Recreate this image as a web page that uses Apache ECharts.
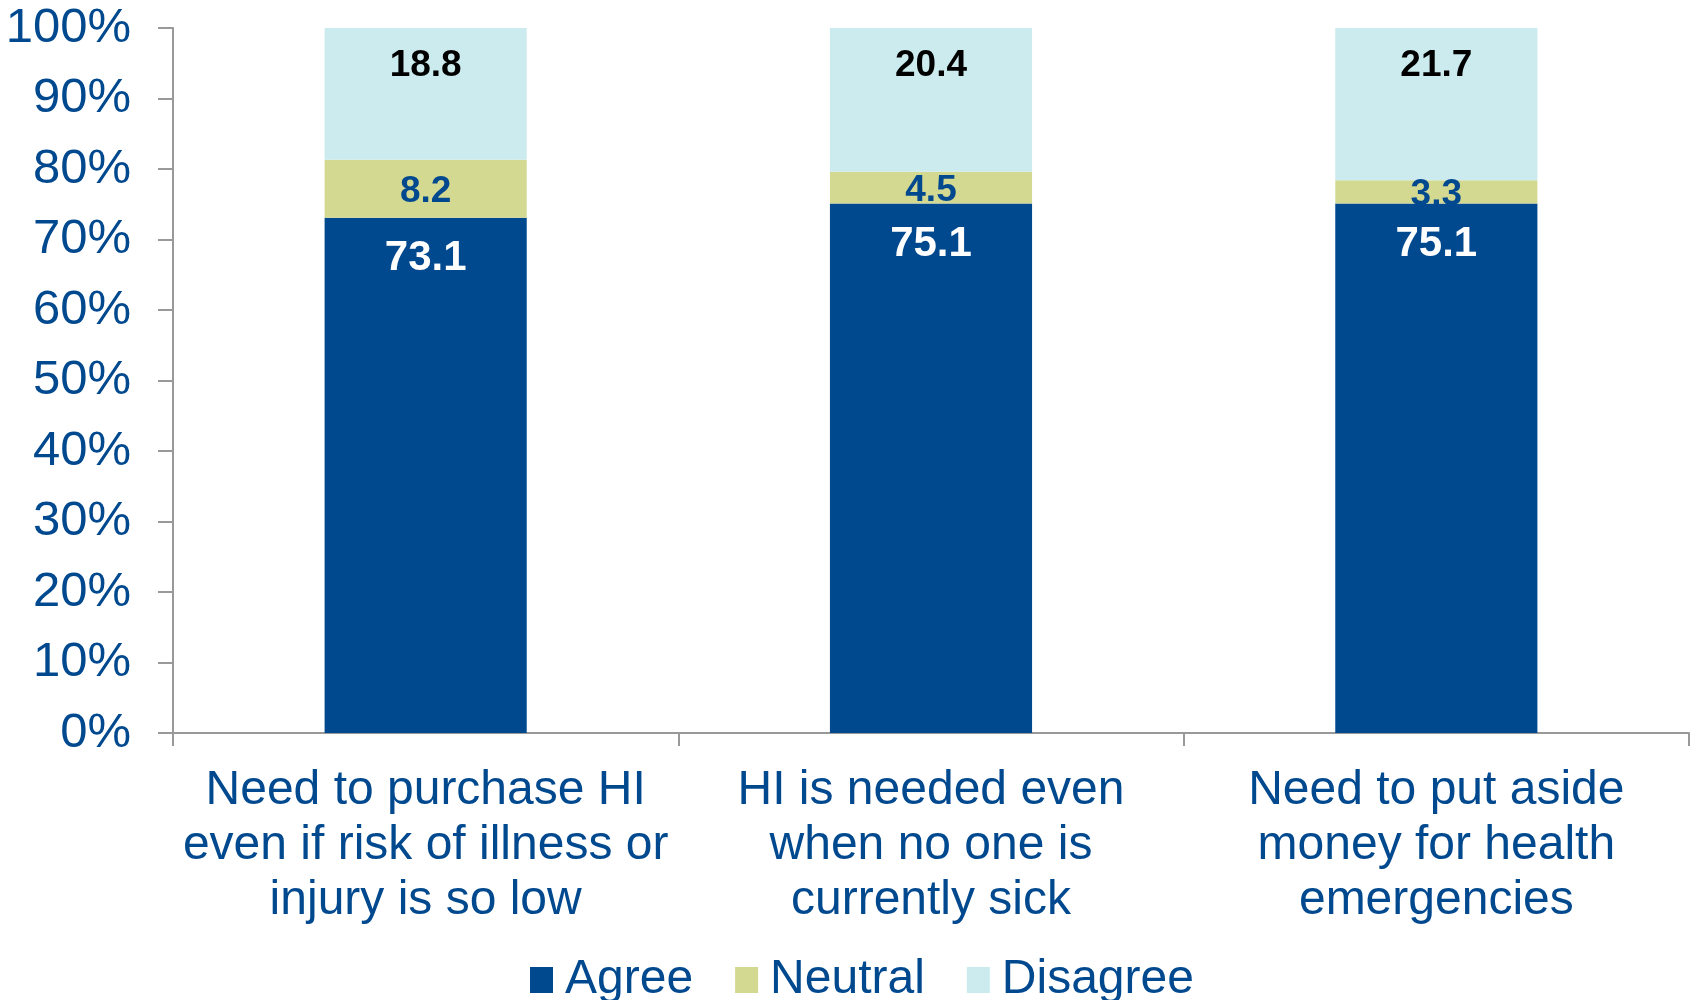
<!DOCTYPE html>
<html>
<head>
<meta charset="utf-8">
<script src="https://cdn.jsdelivr.net/npm/echarts@6/dist/echarts.min.js"></script>
<style>
html,body{margin:0;padding:0;background:#fff;}
#chart{width:1694px;height:1000px;}
</style>
</head>
<body>
<div id="chart"></div>
<script>
const categories = [
  'Need to purchase HI\neven if risk of illness or\ninjury is so low',
  'HI is needed even\nwhen no one is\ncurrently sick',
  'Need to put aside\nmoney for health\nemergencies'
];
const agree = [73.1, 75.1, 75.1];
const neutral = [8.2, 4.5, 3.3];
const disagree = [18.8, 20.4, 21.7];
const seriesNames = ['Agree', 'Neutral', 'Disagree'];

const blue = '#00498F';
const font = 'Arial, "Liberation Sans", sans-serif';
const chart = echarts.init(document.getElementById('chart'));
chart.setOption({
  animation: false,
  textStyle: { fontFamily: font },
  grid: { left: 173, right: 5, top: 28, bottom: 267, containLabel: false },
  legend: {
    data: seriesNames,
    top: 951,
    left: 525,
    itemWidth: 23,
    itemHeight: 26,
    itemGap: 42,
    icon: 'rect',
    textStyle: { color: blue, fontSize: 48, fontFamily: font, padding: [0, 0, 0, 7] }
  },
  xAxis: {
    type: 'category',
    data: categories,
    axisLine: { lineStyle: { color: '#999999', width: 2 } },
    axisTick: { show: true, length: 13, lineStyle: { color: '#999999', width: 2 } },
    axisLabel: { color: blue, fontSize: 48, lineHeight: 55, margin: 30, fontFamily: font, interval: 0 }
  },
  yAxis: {
    type: 'value',
    min: 0,
    max: 100,
    interval: 10,
    splitLine: { show: false },
    axisLine: { show: true, lineStyle: { color: '#999999', width: 2 } },
    axisTick: { show: true, length: 15, lineStyle: { color: '#999999', width: 2 } },
    axisLabel: { formatter: '{value}%', color: blue, fontSize: 49, margin: 42, fontFamily: font }
  },
  series: [
    {
      name: seriesNames[0], type: 'bar', stack: 'a', data: agree, barWidth: '40%',
      itemStyle: { color: '#00498F' },
      label: { show: true, position: 'insideTop', distance: 20, color: '#ffffff', fontSize: 42, fontWeight: 'bold', fontFamily: font }
    },
    {
      name: seriesNames[1], type: 'bar', stack: 'a', data: neutral, barWidth: '40%',
      itemStyle: { color: '#D4D991' },
      label: { show: true, position: 'inside', offset: [0, 3], color: '#00498F', fontSize: 37, fontWeight: 'bold', fontFamily: font }
    },
    {
      name: seriesNames[2], type: 'bar', stack: 'a', data: disagree, barWidth: '40%',
      itemStyle: { color: '#CBEBEE' },
      label: { show: true, position: 'insideTop', distance: 19, color: '#000000', fontSize: 37, fontWeight: 'bold', fontFamily: font }
    }
  ]
});
</script>
</body>
</html>
